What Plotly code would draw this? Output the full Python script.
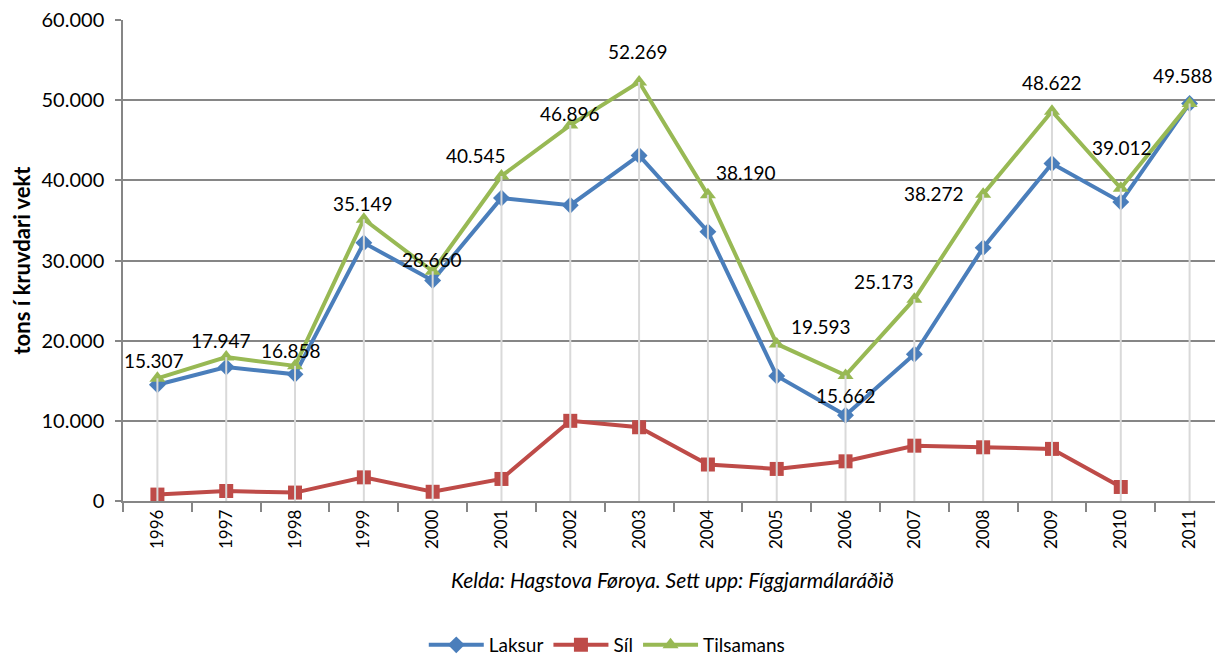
import plotly.graph_objects as go

years = ["1996", "1997", "1998", "1999", "2000", "2001", "2002", "2003",
         "2004", "2005", "2006", "2007", "2008", "2009", "2010", "2011"]
laksur = [14500, 16700, 15800, 32200, 27500, 37800, 36900, 43100,
          33600, 15600, 10700, 18300, 31600, 42100, 37300, 49588]
sil = [800, 1250, 1050, 2950, 1150, 2750, 10000, 9200,
       4550, 4000, 4950, 6900, 6700, 6500, 1750, None]
tilsamans = [15307, 17947, 16858, 35149, 28660, 40545, 46896, 52269,
             38190, 19593, 15662, 25173, 38272, 48622, 39012, 49588]
label_texts = ["15.307", "17.947", "16.858", "35.149", "28.660", "40.545", "46.896", "52.269",
               "38.190", "19.593", "15.662", "25.173", "38.272", "48.622", "39.012", "49.588"]
# label offsets in pixels (style only)
label_dx = [-3, -5, -4, -1, -1, -25, 0, -1, 38, 44, 0, -30, -49, 0, 1, -7]
label_dy = [18, 17, 15, 16, 12, 20, 12, 30, 22, 17, -20, 18, 1, 29, 41, 28]

FONT = "Lato"
fig = go.Figure()

fig.add_trace(go.Scatter(x=years, y=laksur, name="Laksur", mode="lines+markers",
                         line=dict(color="#4A7EBB", width=4),
                         marker=dict(symbol="diamond", size=13, color="#4A7EBB")))
fig.add_trace(go.Scatter(x=years, y=sil, name="Síl", mode="lines+markers",
                         line=dict(color="#BE4B48", width=4),
                         marker=dict(symbol="square", size=14, color="#BE4B48")))
fig.add_trace(go.Scatter(x=years, y=tilsamans, name="Tilsamans", mode="lines+markers",
                         line=dict(color="#98B954", width=4),
                         marker=dict(symbol="triangle-up", size=14, color="#98B954")))

# drop lines from highest point to axis
dx, dy = [], []
for i, yr in enumerate(years):
    top = max(v for v in (laksur[i], sil[i], tilsamans[i]) if v is not None)
    dx += [yr, yr, None]
    dy += [0, top, None]
fig.add_trace(go.Scatter(x=dx, y=dy, mode="lines", showlegend=False, hoverinfo="skip",
                         line=dict(color="#D9D9D9", width=2)))

for i, yr in enumerate(years):
    fig.add_annotation(x=i, y=tilsamans[i], text=label_texts[i], showarrow=False,
                       xshift=label_dx[i], yshift=label_dy[i],
                       font=dict(family=FONT, size=19, color="black"))

fig.add_annotation(xref="paper", yref="paper", x=0.499, y=-0.164, yanchor="middle",
                   text="<i>Kelda: Hagstova Føroya. Sett upp: Fíggjarmálaráðið</i>",
                   showarrow=False, font=dict(family=FONT, size=21, color="black"))

fig.update_layout(
    width=1223, height=655,
    margin=dict(l=115, r=7, t=12, b=162),
    paper_bgcolor="white", plot_bgcolor="white",
    separators=",.",
    font=dict(family=FONT, size=19, color="black"),
    legend=dict(orientation="h", xref="container", yref="container",
                x=0.49, xanchor="center", y=0.0275, yanchor="middle",
                font=dict(family=FONT, size=19), itemwidth=55),
    xaxis=dict(type="category", range=[-0.5, 15.5], showgrid=False, automargin=False,
               showline=True, linecolor="#868686", linewidth=1.5,
               ticks="outside", tickson="boundaries", ticklen=9, tickcolor="#868686",
               tickwidth=1.5, tickangle=-90, tickfont=dict(family=FONT, size=17)),
    yaxis=dict(range=[0, 60000], dtick=10000, tickformat=",d", automargin=False,
               showgrid=True, gridcolor="#868686", gridwidth=1.5,
               showline=True, linecolor="#868686", linewidth=1.5,
               ticks="outside", ticklen=6, tickcolor="#868686", tickwidth=1.5,
               zeroline=False, ticklabelstandoff=7, ticklabeloverflow="allow",
               tickfont=dict(family=FONT, size=20),
               title=dict(text="<b>tons í kruvdari vekt</b>", standoff=8,
                          font=dict(family=FONT, size=22))),
)

fig.write_html("out.html")
